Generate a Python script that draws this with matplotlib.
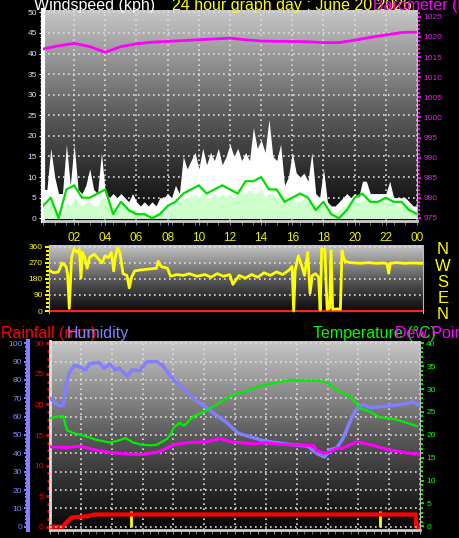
import numpy as np
import matplotlib.pyplot as plt
from matplotlib.colors import LinearSegmentedColormap
from matplotlib.ticker import MultipleLocator, FixedLocator, NullLocator

plt.rcParams['font.family'] = ['Liberation Sans', 'DejaVu Sans']

# ---- wind (kph), 15 min samples over 24 h
gust = [7, 7, 17, 10, 6, 6, 18, 8, 18, 7, 6, 8,
        12, 7, 6, 16, 6, 5, 6, 5, 6, 5, 4, 6,
        4, 3, 4, 3, 4, 3, 5, 5, 6, 5, 8, 6,
        15, 12, 14, 16, 12, 17, 13, 16, 14, 17, 13, 15,
        18, 15, 17, 14, 16, 14, 22, 17, 19, 16, 24, 15,
        14, 18, 8, 10, 16, 11, 10, 11, 9, 16, 6, 5,
        12, 4, 3, 3, 4, 5, 6, 5, 6, 5, 9, 9,
        6, 6, 6, 6, 6, 9, 5, 5, 5, 5, 4, 3, 3]
avg_speed = [3, 3, 5, 3, 1, 1, 4, 3, 5, 4, 3, 4,
             4, 3, 3, 5, 5, 3, 3, 2, 3, 3, 2, 2,
             2, 1, 2, 1, 1, 1, 2, 1, 2, 3, 4, 4,
             5, 5, 5, 6, 5, 6, 5, 5, 6, 5, 6, 5,
             6, 5, 6, 6, 6, 7, 6, 6, 7, 5, 6, 6,
             5, 6, 5, 4, 5, 4, 4, 5, 4, 4, 3, 3,
             3, 2, 1, 1, 2, 3, 3, 4, 4, 4, 4, 5,
             4, 4, 4, 4, 4, 4, 4, 3, 3, 3, 3, 2, 2]
# 30 min average line
avg_line = [3, 5, 0, 7, 8, 5, 5, 6, 7, 1, 4, 2, 1, 1, 0, 1, 3, 4, 6, 7,
            8, 6, 7, 8, 7, 6, 9, 9, 10, 7, 7, 4, 5, 6, 5, 2, 4, 1, 0, 2,
            5, 6, 4, 4, 5, 4, 4, 2, 1]
# barometer (hPa), hourly
baro = [1017.0, 1017.8, 1018.4, 1017.6, 1016.2, 1017.6, 1018.3, 1018.7, 1018.9,
        1019.1, 1019.3, 1019.5, 1019.7, 1019.3, 1019.0, 1018.9, 1018.9, 1018.8,
        1018.6, 1018.6, 1019.2, 1019.9, 1020.5, 1021.1, 1021.2]

# ---- wind direction (deg)
dir_h = [0.0, 0.3, 0.6, 0.85, 1.1, 1.2, 1.3, 1.45, 1.6, 1.8,
         1.95, 2.05, 2.15, 2.3, 2.45, 2.6, 2.9, 3.2, 3.4, 3.6,
         3.8, 4.0, 4.15, 4.25, 4.4, 4.55, 4.75, 5.0, 5.15, 5.3,
         5.5, 5.8, 6.3, 6.9, 7.0, 7.2, 7.6, 7.8, 8.2, 8.6,
         9.0, 9.5, 10.0, 10.4, 10.8, 11.2, 11.6, 11.8, 12.2, 12.6,
         13.0, 13.4, 13.8, 14.2, 14.6, 15.0, 15.4, 15.6, 15.7, 15.8,
         16.0, 16.2, 16.4, 16.6, 16.75, 16.9, 17.1, 17.3, 17.4, 17.5,
         17.7, 17.85, 18.0, 18.1, 18.2, 18.5, 18.7, 18.8, 18.9, 19.0,
         19.3, 20.0, 20.5, 21.0, 21.5, 21.7, 21.8, 21.9, 22.3, 22.8,
         23.3, 24.0]
dir_deg = [230, 215, 220, 270, 250, 200, 15, 300, 350, 330,
           345, 185, 330, 300, 240, 300, 320, 290, 270, 310,
           300, 330, 225, 300, 355, 330, 210, 200, 130, 190,
           225, 230, 235, 240, 280, 250, 240, 195, 205, 200,
           210, 195, 205, 190, 210, 195, 205, 150, 200, 185,
           205, 190, 215, 200, 220, 205, 230, 250, 0, 230,
           310, 260, 200, 330, 100, 200, 210, 190, 5, 350,
           345, 10, 15, 340, 10, 12, 10, 340, 300, 280,
           272, 268, 272, 268, 270, 265, 212, 268, 272, 268,
           270, 268]
compass = ['N', 'W', 'S', 'E', 'N']

# ---- humidity / temperature / dew point / rain
hum_h = [0, 0.3, 0.6, 0.85, 1.05, 1.25, 1.6, 1.95, 2.3, 2.6, 3.2, 3.5, 3.9, 4.2,
         4.5, 5.0, 5.3, 5.8, 6.3, 6.9, 7.3, 8.0, 8.6, 9.3, 9.9, 10.6, 11.5, 12.2,
         13.0, 13.8, 14.5, 15.4, 16.0, 16.7, 17.3, 17.8, 18.2, 18.6, 19.0, 19.3,
         19.6, 19.9, 20.3, 20.8, 21.4, 22.0, 22.5, 23.0, 23.5, 23.9]
hum = [70, 68, 66, 66, 78, 84, 88, 87, 85.5, 89, 89.5, 86.5, 88.7, 85.5,
       86.5, 82, 85.5, 85, 90, 90, 88, 80, 76, 70, 66.5, 62, 56.5, 51,
       49, 47, 46, 45, 44.5, 44, 40, 38, 42, 43, 48, 54,
       60, 64.5, 66.4, 65, 65.3, 66, 66.4, 67, 68, 66.4]
temp_h = [0, 0.5, 0.85, 1.1, 1.5, 1.95, 2.4, 3.0, 3.9, 4.4, 4.9, 5.4, 6.0, 6.5,
          6.9, 7.6, 7.9, 8.0, 8.4, 8.7, 9.3, 10.2, 11.0, 11.7, 12.8, 13.8, 14.9,
          15.7, 16.7, 17.5, 18.0, 18.6, 19.3, 19.8, 20.1, 20.8, 21.4, 22.2, 22.9, 23.8]
temp = [23.6, 24.0, 24.1, 21.0, 20.4, 20.0, 19.6, 18.9, 18.3, 18.7, 19.3, 18.3, 17.8, 17.7,
        17.8, 19.1, 20.5, 21.5, 22.6, 22.0, 24.0, 25.4, 27.0, 28.5, 29.6, 30.9, 31.5,
        32.0, 31.8, 31.8, 31.3, 29.8, 28.7, 27.2, 25.8, 25.0, 23.8, 23.5, 22.9, 21.9]
dew_h = [0, 1.0, 1.95, 2.8, 3.9, 5.0, 6.0, 7.1, 8.0, 8.9, 10.2, 11.0, 11.7, 12.5,
         13.3, 14.0, 14.9, 16.0, 17.1, 17.3, 17.8, 18.2, 18.6, 19.0, 19.9, 20.8,
         22.0, 23.2, 23.9]
dew = [17.4, 17.2, 17.5, 16.8, 16.1, 15.8, 15.7, 16.3, 17.8, 18.3, 18.5, 19.2, 18.5, 18.2,
       18.0, 18.3, 17.9, 17.8, 17.6, 16.5, 16.0, 16.3, 17.0, 17.1, 18.5, 17.8,
       16.7, 16.0, 15.8]
rain_h = [0, 0.8, 1.1, 1.4, 1.8, 2.4, 2.9, 23.72, 23.75, 24]
rain = [0, 0, 0.8, 1.5, 1.6, 1.7, 2.0, 2.0, 0, 0]
rate_h = [5.25, 21.4]
rate = [2.6, 2.6]

hour_labels = ['02', '04', '06', '08', '10', '12', '14', '16', '18', '20', '22', '00']

W, H = 460, 538
fig = plt.figure(figsize=(W / 100, H / 100), dpi=100, facecolor='black')


def rect(x0, y0, x1, y1):
    return [x0 / W, 1 - y1 / H, (x1 - x0) / W, (y1 - y0) / H]


def ftext(x, y, s, color, size, **kw):
    fig.text(x / W, 1 - y / H, s, color=color, fontsize=size, **kw)


cm = LinearSegmentedColormap.from_list('bg', ['#060606', '#5a5a5a', '#c6c6c6'])
grid_kw = dict(color='#dddddd', linestyle=(0, (1, 2)), linewidth=1.2)


def background(ax, ylo, yhi):
    ax.imshow(np.linspace(1, 0, 200).reshape(-1, 1), cmap=cm, extent=[0, 24, ylo, yhi],
              aspect='auto', zorder=0, origin='upper')
    ax.set_xlim(0, 24)
    ax.set_ylim(ylo, yhi)
    ax.set_facecolor('black')


# ================= panel 1: wind + barometer
ax1 = fig.add_axes(rect(43, 10, 417, 221))
background(ax1, -0.66, 50.56)
t_w = np.linspace(0, 24, len(gust))
ax1.fill_between(t_w, 0, gust, color='white', lw=0, zorder=2)
ax1.fill_between(t_w, 0, avg_speed, color='#ccffcc', lw=0, zorder=3)
ax1.plot(np.linspace(0, 24, len(avg_line)), avg_line, color='#00dd00', lw=1.6, zorder=4)
ax1.set_axisbelow(True)
ax1.xaxis.set_major_locator(FixedLocator(range(2, 25, 2)))
ax1.xaxis.set_minor_locator(MultipleLocator(0.75))
ax1.set_xticklabels(hour_labels)
ax1.yaxis.set_major_locator(MultipleLocator(5))
ax1.yaxis.set_minor_locator(MultipleLocator(1))
ax1.grid(True, which='major', **grid_kw)
ax1.tick_params(axis='x', which='both', colors='#888888', labelcolor='#eeee00',
                labelsize=8.5, length=3, pad=5)
ax1.tick_params(axis='y', which='major', colors='white', labelcolor='#d0e0ff',
                labelsize=6, length=3, pad=1.5)
ax1.tick_params(axis='y', which='minor', colors='white', length=2)
for s in ['top', 'right']:
    ax1.spines[s].set_visible(False)
ax1.spines['left'].set_color('white')
ax1.spines['left'].set_linewidth(3)
ax1.spines['bottom'].set_color('#cccccc')
ax1.spines['bottom'].set_linewidth(2)

ax1b = ax1.twinx()
ax1b.plot(np.linspace(0, 24, len(baro)), baro, color='#ff00ff', lw=2)
ax1b.set_ylim(974.25, 1026.7)
ax1b.yaxis.set_major_locator(MultipleLocator(5))
ax1b.yaxis.set_minor_locator(MultipleLocator(1))
ax1b.tick_params(axis='y', which='major', colors='#ff00ff', labelcolor='#dd22dd',
                 labelsize=6, length=3, width=1.5, pad=1.5)
ax1b.tick_params(axis='y', which='minor', colors='#ff00ff', length=2, width=1.5)
for s in ['top', 'left', 'bottom']:
    ax1b.spines[s].set_visible(False)
ax1b.spines['right'].set_color('#bbbbbb')

# ================= panel 2: wind direction
ax2 = fig.add_axes(rect(49, 245, 423, 313))
background(ax2, -11.2, 371)
ax2.plot(dir_h, dir_deg, color='#ffff00', lw=2, zorder=3)
ax2.axhline(0, color='#ff2020', lw=1.5, zorder=2)
ax2.set_axisbelow(True)
ax2.xaxis.set_major_locator(NullLocator())
ax2.yaxis.set_major_locator(MultipleLocator(90))
ax2.yaxis.set_minor_locator(MultipleLocator(22.5))
ax2.grid(True, axis='y', **grid_kw)
ax2.tick_params(axis='y', which='major', colors='#ffff00', labelcolor='#ffff00',
                labelsize=6, length=3, width=1.5, pad=1.5)
ax2.tick_params(axis='y', which='minor', colors='#ffff00', length=2, width=1.5)
for s in ['top', 'bottom']:
    ax2.spines[s].set_visible(False)
for s in ['left', 'right']:
    ax2.spines[s].set_color('#bbbbbb')
for i, c in enumerate(compass):
    ftext(443, 250 + i * 16.2, c, '#ffff00', 12, ha='center', va='center')

# ================= panel 3: rain / humidity / temperature
ax3 = fig.add_axes(rect(50, 341, 420, 530))
background(ax3, -0.54, 30.38)
ax3.plot(rain_h, rain, color='#ff0000', lw=3, zorder=4)
ax3.vlines(rate_h, 0, rate, color='#ffff00', lw=2, zorder=3)
ax3.set_axisbelow(True)
ax3.xaxis.set_major_locator(MultipleLocator(2))
ax3.xaxis.set_minor_locator(MultipleLocator(0.5))
ax3.grid(True, axis='x', **grid_kw)
ax3.tick_params(axis='x', which='both', colors='#888888', labelbottom=False, length=3)
ax3.yaxis.set_major_locator(MultipleLocator(5))
ax3.yaxis.set_minor_locator(MultipleLocator(1.25))
ax3.tick_params(axis='y', which='major', colors='#ff0000', labelcolor='#ff0000',
                labelsize=6, length=3, width=2, pad=1.5)
ax3.tick_params(axis='y', which='minor', colors='#ff0000', length=2, width=2)
for s in ['top', 'right']:
    ax3.spines[s].set_visible(False)
ax3.spines['left'].set_color('#dddddd')
ax3.spines['left'].set_linewidth(2)
ax3.spines['bottom'].set_color('#cccccc')
ax3.spines['bottom'].set_linewidth(2)

axh = ax3.twinx()
axh.plot(hum_h, hum, color='#7f7fff', lw=2.5)
axh.set_ylim(-1.8, 101.25)
axh.yaxis.set_ticks_position('left')
axh.spines['left'].set_position(('outward', 15.5))
axh.spines['left'].set_visible(True)
axh.spines['left'].set_color('#7f7fff')
axh.spines['left'].set_linewidth(3)
for s in ['top', 'right', 'bottom']:
    axh.spines[s].set_visible(False)
axh.yaxis.set_major_locator(MultipleLocator(10))
axh.yaxis.set_minor_locator(MultipleLocator(2))
axh.set_axisbelow(True)
axh.grid(True, axis='y', **grid_kw)
axh.tick_params(axis='y', which='major', colors='#7f7fff', labelcolor='#8888ff',
                labelsize=6, length=3, width=1.5, pad=1.5)
axh.tick_params(axis='y', which='minor', colors='#7f7fff', length=2, width=1.5)

axt = ax3.twinx()
axt.plot(temp_h, temp, color='#00ee00', lw=1.6)
axt.plot(dew_h, dew, color='#ff00ff', lw=2.2)
axt.set_ylim(-0.81, 40.5)
axt.yaxis.set_major_locator(MultipleLocator(5))
axt.yaxis.set_minor_locator(MultipleLocator(1))
axt.tick_params(axis='y', which='major', colors='#00ee00', labelcolor='#00ff00',
                labelsize=6, length=3, width=1.5, pad=1.5)
axt.tick_params(axis='y', which='minor', colors='#00ee00', length=2, width=1.5)
for s in ['top', 'left', 'bottom']:
    axt.spines[s].set_visible(False)
axt.spines['right'].set_color('#bbbbbb')

# ================= titles
ftext(34, 10, 'Windspeed (kph)', 'white', 11.5, va='baseline')
ftext(172, 10, '24 hour graph day : June 20 2026', '#ffff00', 11.5, va='baseline')
ftext(373, 10, 'Barometer (hPa)', '#ff00ff', 11.5, va='baseline')
ftext(1, 338, 'Rainfall (mm)', '#ff0000', 11.5, va='baseline')
ftext(67, 338, 'Humidity', '#8080ff', 11.5, va='baseline')
ftext(313, 338, 'Temperature (\u00b0C)', '#00ff00', 11.5, va='baseline')
ftext(395, 338, 'Dew Point', '#ff00ff', 11.5, va='baseline')

fig.savefig('out.png', dpi=100, facecolor='black')
